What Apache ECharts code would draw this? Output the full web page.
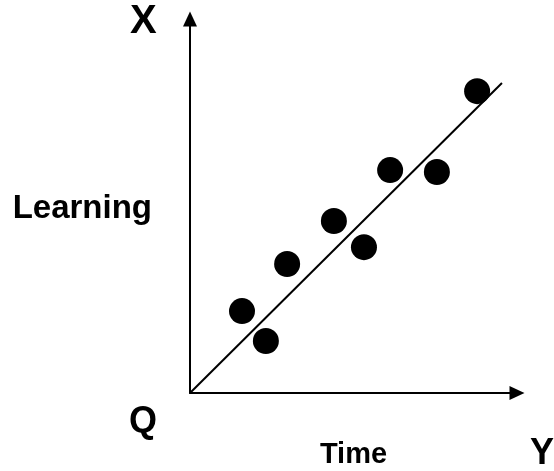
<!DOCTYPE html>
<html>
<head>
<meta charset="utf-8">
<script src="https://cdn.jsdelivr.net/npm/echarts@6/dist/echarts.min.js"></script>
<style>html,body{margin:0;padding:0;background:#fff;}#c{width:554px;height:471px;}</style>
</head>
<body>
<div id="c"></div>
<script>
var timeValues = [15.9, 23.2, 29.7, 44.0, 53.2, 61.2, 75.5, 87.8];
var learningValues = [21.9, 13.9, 34.5, 46.0, 39.0, 59.6, 59.1, 80.7];
var trendX = [0, 95.4];
var trendY = [0, 82.9];
var xAxisName = 'Time';
var yAxisName = 'Learning';
var cornerLabels = ['X', 'Y', 'Q'];

var points = timeValues.map(function (t, i) { return [t, learningValues[i]]; });
var trend = trendX.map(function (t, i) { return [t, trendY[i]]; });
var font = 'Liberation Sans, Arial, sans-serif';

var chart = echarts.init(document.getElementById('c'));
chart.setOption({
  animation: false,
  backgroundColor: '#fff',
  grid: { left: 190, top: 19, right: 37, bottom: 78, containLabel: false, outerBoundsMode: 'none' },
  xAxis: {
    type: 'value', min: 0, max: 100,
    name: xAxisName, nameLocation: 'middle', nameGap: 47,
    nameTextStyle: { fontFamily: font, fontWeight: 'bold', fontSize: 29, color: '#000', verticalAlign: 'top' },
    axisLine: { show: true, lineStyle: { color: '#000', width: 2 }, symbol: ['none', 'triangle'], symbolSize: [14, 15], symbolOffset: [0, 0] },
    axisTick: { show: false }, axisLabel: { show: false }, splitLine: { show: false }
  },
  yAxis: {
    type: 'value', min: 0, max: 100,
    axisLine: { show: true, lineStyle: { color: '#000', width: 2 }, symbol: ['none', 'triangle'], symbolSize: [14, 15], symbolOffset: [0, 0] },
    axisTick: { show: false }, axisLabel: { show: false }, splitLine: { show: false }
  },
  graphic: [
    { type: 'text', right: 554 - 152, top: 192, style: { text: yAxisName, font: 'bold 33px ' + font, fill: '#000' } },
    { type: 'text', left: 130, top: 2, style: { text: cornerLabels[0], font: 'bold 40px ' + font, fill: '#000' } },
    { type: 'text', left: 530, top: 436, style: { text: cornerLabels[1], font: 'bold 36px ' + font, fill: '#000' } },
    { type: 'text', left: 129, top: 404, style: { text: cornerLabels[2], font: 'bold 36px ' + font, fill: '#000' } }
  ],
  series: [
    {
      type: 'line', data: trend, showSymbol: false, symbol: 'none',
      lineStyle: { color: '#000', width: 2 }, z: 2
    },
    {
      type: 'scatter', data: points, symbol: 'circle', symbolSize: 26,
      itemStyle: { color: '#000', opacity: 1 }, z: 3
    }
  ]
});
</script>
</body>
</html>
